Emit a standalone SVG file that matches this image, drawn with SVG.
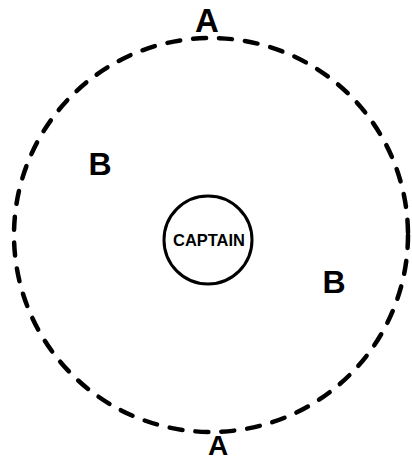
<svg xmlns="http://www.w3.org/2000/svg" width="412" height="462" viewBox="0 0 412 462">
<style>
.lbl{font-family:"Liberation Sans","DejaVu Sans",sans-serif;font-weight:bold;fill:#000;text-anchor:middle}
</style>
<rect width="412" height="462" fill="#fff"/>
<g id="connectors"></g>
<g id="boundary">
<circle cx="211" cy="235" r="197" fill="none" stroke="#000" stroke-width="4.5" stroke-dasharray="13 13" stroke-linecap="round"/>
</g>
<g id="captain">
<circle cx="208" cy="240" r="44" fill="none" stroke="#000" stroke-width="3"/>
<text class="lbl" x="209" y="246" font-size="17" textLength="72" lengthAdjust="spacingAndGlyphs">CAPTAIN</text>
</g>
<g id="a-top"><text class="lbl" x="207" y="32" font-size="33">A</text></g>
<g id="a-bottom"><text class="lbl" x="218" y="455" font-size="28">A</text></g>
<g id="b-left"><text class="lbl" x="100" y="175" font-size="32">B</text></g>
<g id="b-right"><text class="lbl" x="334" y="293" font-size="32">B</text></g>
</svg>
